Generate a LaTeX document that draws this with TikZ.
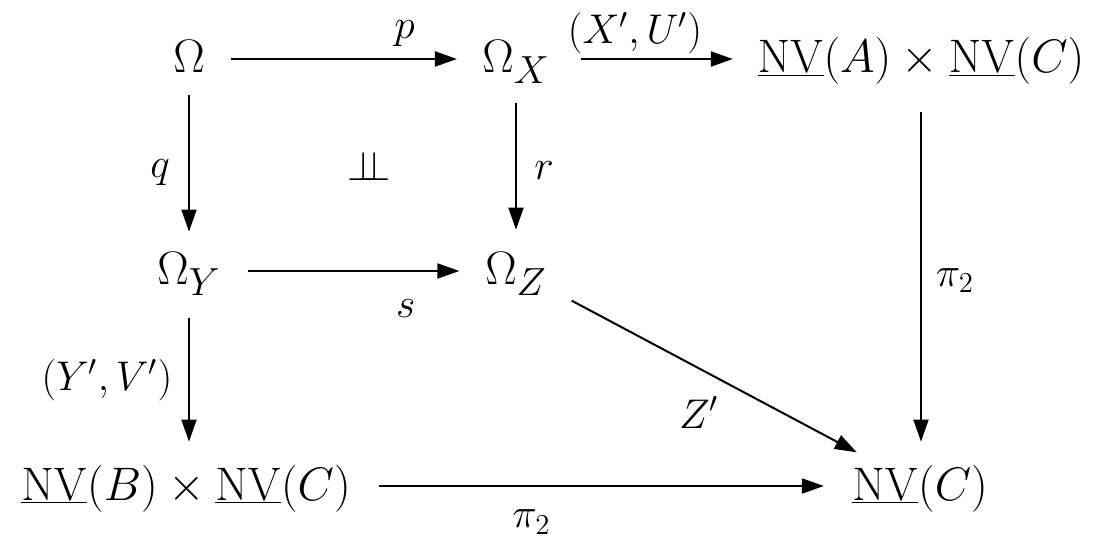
\documentclass[tikz,border=0pt]{standalone}
\usepackage{graphicx}
\usetikzlibrary{arrows.meta}
\DeclareMathSizes{24.88}{24.88}{20.74}{14.4}
\newcommand{\obtext}[1]{\scalebox{0.945}{$#1$}}
\begin{document}
\begin{tikzpicture}[x=0.5pt,y=-0.5pt,
  obj/.style={inner sep=0pt, anchor=base, text height=14pt, text depth=0pt, font=\fontsize{24.88}{30}\selectfont},
  lab/.style={inner sep=0pt, font=\fontsize{22}{26}\selectfont},
  arr/.style={line width=1pt, -{Triangle[length=11pt,width=7.5pt]}}]
\useasboundingbox (0,0) rectangle (1109,545);
\node[obj] (O)  at (189,73)  {\obtext{\Omega}};
\node[obj] (OX) at (516,73)  {\obtext{\Omega_X}};
\node[obj] (AC) at (921,73)  {\obtext{\underline{\mathrm{NV}}(A)\times\underline{\mathrm{NV}}(C)}};
\node[obj] (OY) at (189,285) {\obtext{\Omega_Y}};
\node[obj] (OZ) at (516,285) {\obtext{\Omega_Z}};
\node[obj] (BC) at (186,500) {\obtext{\underline{\mathrm{NV}}(B)\times\underline{\mathrm{NV}}(C)}};
\node[obj] (C)  at (920,500) {\obtext{\underline{\mathrm{NV}}(C)}};
\node[lab] (indep) at (369,166) {$\perp\!\!\!\perp$};
\draw[arr, shorten <=13pt, shorten >=12.5pt] (O.east) -- (O.east -| OX.west)
  node[lab, pos=0.72, yshift=12.5pt] {$p$};
\draw[arr, shorten <=15.5pt, shorten >=12.25pt] (O.east -| OX.east) -- (O.east -| AC.west)
  node[lab, pos=0.41, yshift=13pt] {$(X',U')$};
\draw[arr, shorten <=11pt, shorten >=12.5pt] (O.south) -- (O.south |- OY.north)
  node[lab, pos=0.54, xshift=-14.5pt] {$q$};
\draw[arr, shorten <=15pt, shorten >=13.5pt] (OX.south) -- (OX.south |- OZ.north)
  node[lab, pos=0.53, xshift=14pt] {$r$};
\draw[arr, shorten <=19.5pt, shorten >=15pt] (AC.south) -- (AC.south |- C.north)
  node[lab, pos=0.52, xshift=17pt] {$\pi_2$};
\draw[arr, shorten <=13.5pt, shorten >=12.75pt] (OY.east) -- (OY.east -| OZ.west)
  node[lab, pos=0.70, yshift=-19pt] {$s$};
\draw[arr, shorten <=16.5pt, shorten >=15pt] (OY.south) -- (OY.south |- BC.north)
  node[lab, pos=0.51, xshift=-41pt] {$(Y',V')$};
\draw[arr, shorten <=31.5pt, shorten >=35.8pt] (OZ.center) -- (C.center)
  node[lab, pos=0.5, xshift=-9.5pt, yshift=-17pt] {$Z'$};
\draw[arr, shorten <=13.75pt, shorten >=14pt] (BC.east) -- (BC.east -| C.west)
  node[lab, pos=0.36, yshift=-18pt] {$\pi_2$};
\end{tikzpicture}
\end{document}
